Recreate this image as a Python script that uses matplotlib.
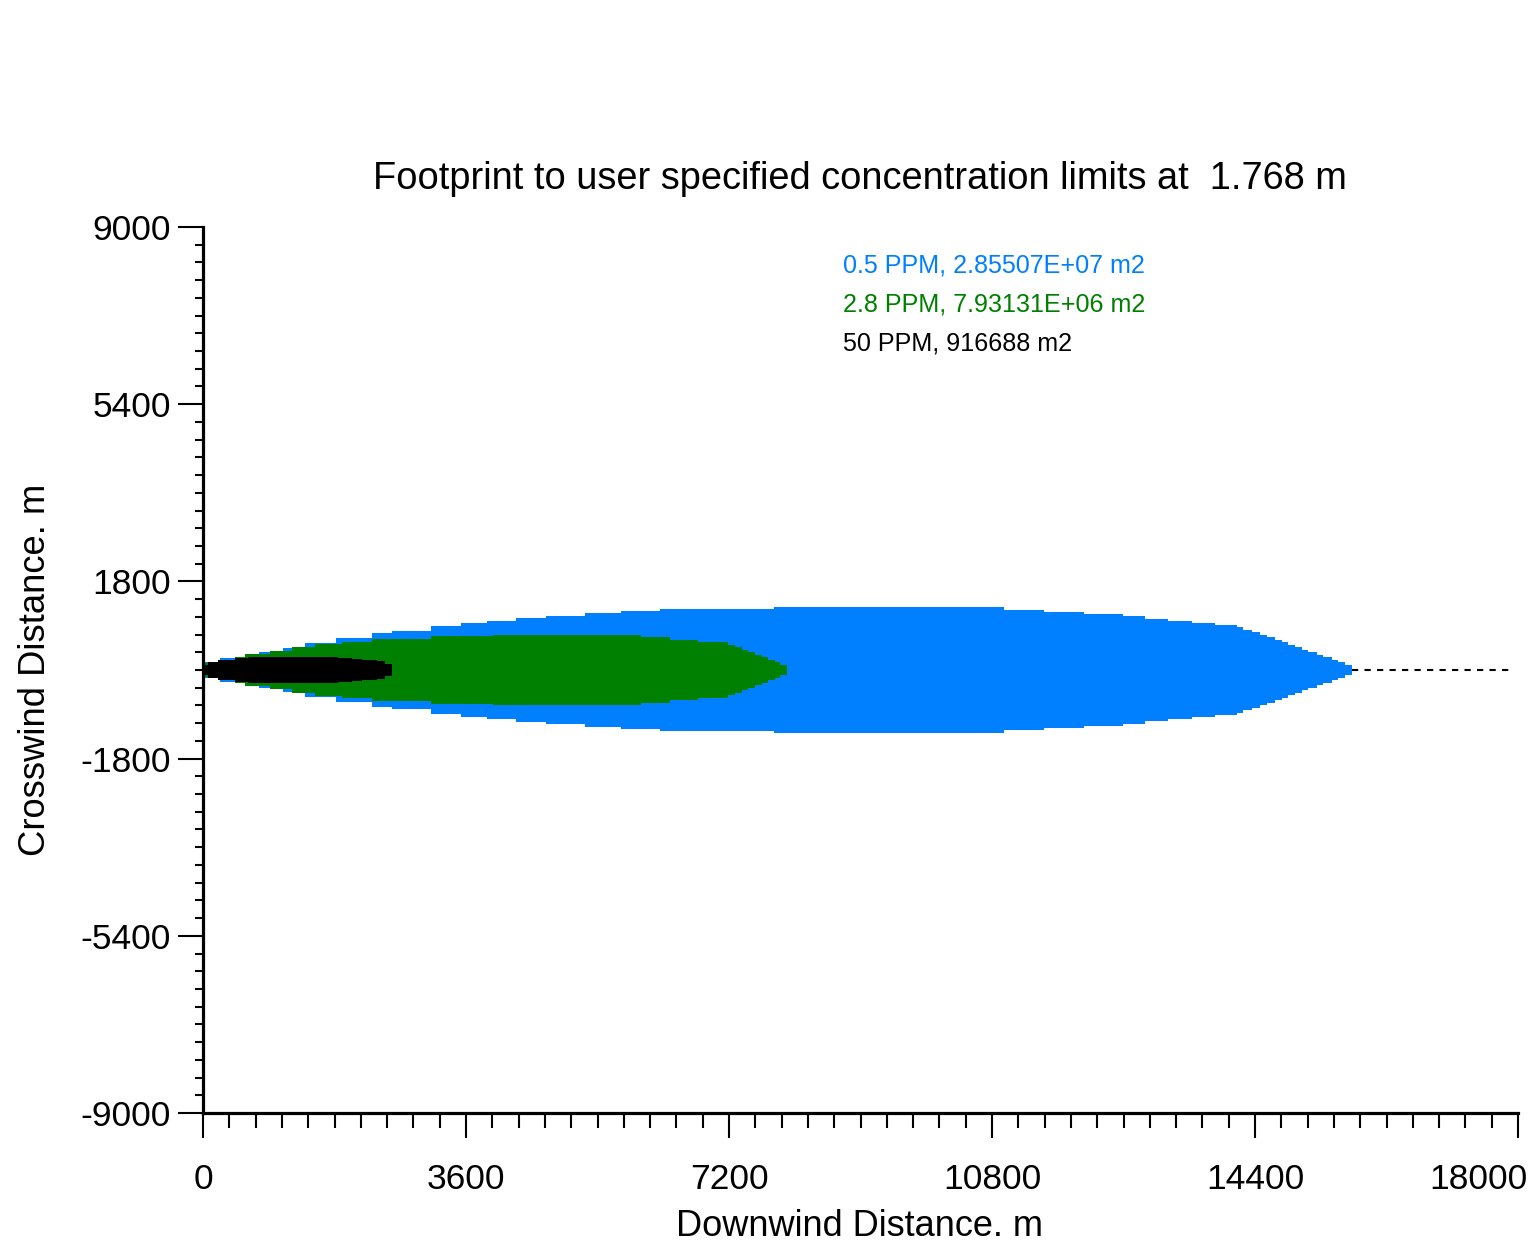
import matplotlib.pyplot as plt
import matplotlib.transforms as mtransforms
from matplotlib.ticker import MultipleLocator
import numpy as np

plt.rcParams['font.family'] = ['Liberation Sans', 'DejaVu Sans']
plt.rcParams['axes.unicode_minus'] = False

# footprint outlines: downwind distance (m) and crosswind half width (m)
blue_x = [0, 228, 470, 769, 1094, 1392, 1825, 2312, 2583, 3124, 3529, 3882, 4287,
          4694, 5234, 5722, 6262, 7816, 10964, 11512, 12059, 12593, 12894, 13209,
          13533, 13852, 14149, 14240, 14355, 14468, 14568, 14674, 14765, 14856,
          14947, 15039, 15129, 15244, 15334, 15449, 15540, 15631, 15722]
blue_w = [169, 238, 270, 372, 453, 555, 644, 746, 798, 900, 949, 995, 1050,
          1103, 1152, 1205, 1239, 1286, 1229, 1178, 1134, 1087, 1040, 1000,
          961, 914, 867, 813, 766, 711, 664, 609, 563, 508,
          461, 406, 360, 305, 258, 203, 156, 102, 102]

green_x = [0, 205, 438, 575, 917, 1214, 1533, 1899, 2313, 3121, 3963, 5585, 5995,
           6392, 6780, 7190, 7282, 7374, 7464, 7556, 7647, 7738, 7830, 7898, 7990]
green_w = [142, 203, 270, 325, 392, 461, 528, 575, 620, 687, 711, 707, 670,
           609, 563, 508, 461, 406, 360, 305, 258, 203, 156, 102, 102]

black_x = [0, 68, 205, 438, 616, 1848, 2040, 2176, 2382, 2491, 2591]
black_w = [102, 158, 213, 244, 262, 244, 230, 213, 173, 112, 112]

centre_x = [15722, 17918]
centre_y = [0, 0]

legend_labels = ["0.5 PPM, 2.85507E+07 m2", "2.8 PPM, 7.93131E+06 m2", "50 PPM, 916688 m2"]
legend_colors = ["#0080FF", "#008000", "#000000"]

x_ticks = [0, 3600, 7200, 10800, 14400, 18000]
y_ticks = [-9000, -5400, -1800, 1800, 5400, 9000]

fig = plt.figure(figsize=(15.32, 12.48), dpi=100)
ax = fig.add_axes([203 / 1532, 1 - 1113 / 1248, 1315 / 1532, 886 / 1248])

for xs, ws, col in [(blue_x, blue_w, legend_colors[0]),
                    (green_x, green_w, legend_colors[1]),
                    (black_x, black_w, legend_colors[2])]:
    xs = np.array(xs)
    ws = np.array(ws)
    ax.fill_between(xs, -ws, ws, step='post', color=col, lw=0)

ax.plot(centre_x, centre_y, color='black', lw=1.5, linestyle=(0, (3, 3)))

ax.set_xlim(0, 18000)
ax.set_ylim(-9000, 9000)
ax.set_xticks(x_ticks)
ax.set_xticklabels([str(v) for v in x_ticks])
ax.set_yticks(y_ticks)
ax.set_yticklabels([str(v) for v in y_ticks])
ax.xaxis.set_minor_locator(MultipleLocator(360))
ax.yaxis.set_minor_locator(MultipleLocator(360))

for s in ['top', 'right']:
    ax.spines[s].set_visible(False)
for s in ['left', 'bottom']:
    ax.spines[s].set_linewidth(2.3)

ax.tick_params(axis='both', which='major', length=18, width=1.5, labelsize=25.5)
ax.tick_params(axis='x', which='major', pad=18)
ax.tick_params(axis='y', which='major', pad=5)
ax.tick_params(axis='x', which='minor', length=11, width=1.5)
ax.tick_params(axis='y', which='minor', length=6, width=1.5)

# last downwind label sits left of its tick so it stays inside the picture
last = ax.get_xticklabels()[-1]
last.set_transform(last.get_transform() +
                   mtransforms.ScaledTranslation(-0.40, 0, fig.dpi_scale_trans))

for i, (lab, col) in enumerate(zip(legend_labels, legend_colors)):
    ax.text(0.4867, 0.957 - i * 0.044, lab, color=col, fontsize=18.1,
            transform=ax.transAxes, ha='left', va='center')

fig.text(860 / 1532, 1 - 179 / 1248, "Footprint to user specified concentration limits at  1.768 m",
         ha='center', va='center', fontsize=27.4)
fig.text(860 / 1532, 1 - 1227 / 1248, "Downwind Distance. m", ha='center', va='center', fontsize=26)
fig.text(36 / 1532, 1 - 670 / 1248, "Crosswind Distance. m", ha='center', va='center',
         rotation=90, fontsize=26.2)

fig.savefig("out.png", dpi=100)
